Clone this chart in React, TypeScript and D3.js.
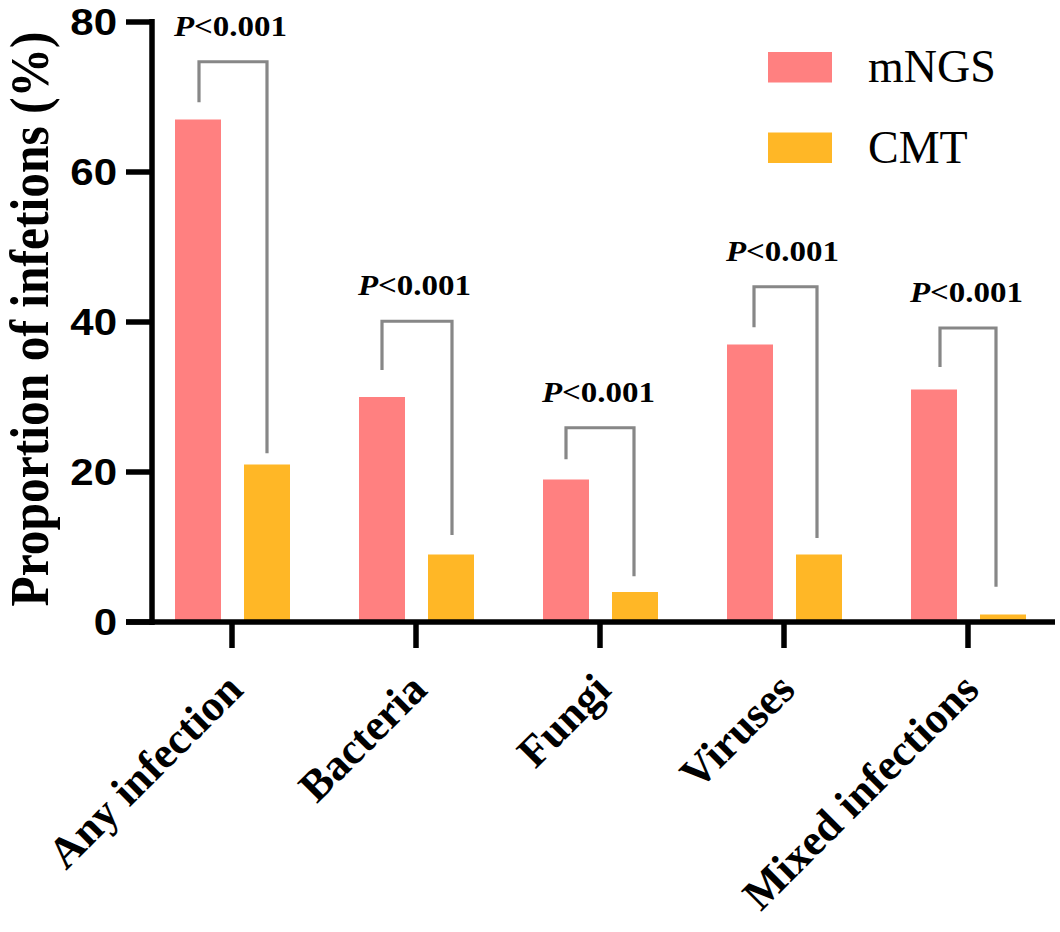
import React from "react";
import * as d3 from "d3";

const categories = ["Any infection", "Bacteria", "Fungi", "Viruses", "Mixed infections"];
const seriesNames = ["mNGS", "CMT"];
const mngsValues = [67, 30, 19, 37, 31];
const cmtValues = [21, 9, 4, 9, 1];
const yTicks = [0, 20, 40, 60, 80];
const pLabels = ["<0.001", "<0.001", "<0.001", "<0.001", "<0.001"];
// bracket annotation heights (data units)
const bracketTop = [74.7, 40.1, 25.9, 44.7, 39.2];
const bracketLeftEnd = [69.3, 33.6, 21.7, 39.3, 34.0];
const bracketRightEnd = [22.5, 11.6, 6.1, 11.2, 4.7];
const bracketLeftShift = [1, 0, 0, 4, 6];
const bracketRightShift = [0, 1, -1, -2, -7];

const colors = ["#FF8080", "#FFB726"];
const W = 1060;
const H = 932;

export default function App() {
  const y = d3.scaleLinear().domain([0, 80]).range([622, 22]);
  const x = d3.scaleBand<string>().domain(categories).range([140, 1060]).padding(0);
  const xs = d3
    .scaleBand<string>()
    .domain(seriesNames)
    .range([35, 150])
    .paddingInner(1 / 3)
    .paddingOuter(0);
  const values = [mngsValues, cmtValues];
  const sy = 0.89;
  const serif = "'Liberation Serif', 'Times New Roman', serif";
  const sans = "'Liberation Sans', Arial, sans-serif";

  return (
    <svg
      width={W}
      height={H}
      style={{ position: "absolute", left: 0, top: 0, background: "#fff" }}
    >
      <rect x={0} y={0} width={W} height={H} fill="#fff" />
      {/* bars */}
      {categories.map((c, i) =>
        seriesNames.map((s, j) => {
          const x0 = (x(c) as number) + (xs(s) as number);
          const v = values[j][i];
          return (
            <rect
              key={c + s}
              x={x0}
              y={y(v)}
              width={xs.bandwidth()}
              height={y(0) - y(v)}
              fill={colors[j]}
            />
          );
        })
      )}
      {/* brackets */}
      {categories.map((c, i) => {
        const xl = (x(c) as number) + (xs("mNGS") as number) + xs.bandwidth() / 2 + bracketLeftShift[i];
        const xr = (x(c) as number) + (xs("CMT") as number) + xs.bandwidth() / 2 + bracketRightShift[i];
        const path = d3.path();
        path.moveTo(xl, y(bracketLeftEnd[i]));
        path.lineTo(xl, y(bracketTop[i]));
        path.lineTo(xr, y(bracketTop[i]));
        path.lineTo(xr, y(bracketRightEnd[i]));
        const cx = (x(c) as number) + x.bandwidth() / 2 - 1.5;
        return (
          <g key={"b" + c}>
            <path d={path.toString()} fill="none" stroke="#878787" strokeWidth={3.2} />
            <text
              transform={`translate(${cx},${y(bracketTop[i]) - 26}) scale(1,0.9)`}
              textAnchor="middle"
              fontFamily={serif}
              fontWeight="bold"
              fontSize={33}
              fill="#000"
            >
              <tspan fontStyle="italic">P</tspan>
              {pLabels[i]}
            </text>
          </g>
        );
      })}
      {/* y axis */}
      <line x1={152} x2={152} y1={y(80) - 3} y2={y(0) + 3} stroke="#000" strokeWidth={5.5} />
      {yTicks.map((t) => (
        <g key={"yt" + t}>
          <line x1={126} x2={152} y1={y(t)} y2={y(t)} stroke="#000" strokeWidth={5.5} />
          <text
            transform={`translate(117,${y(t)}) scale(1,${sy})`}
            dy="0.36em"
            textAnchor="end"
            fontFamily={sans}
            fontWeight="bold"
            fontSize={42}
            fill="#000"
          >
            {t}
          </text>
        </g>
      ))}
      {/* x axis */}
      <line x1={126} x2={1055} y1={y(0)} y2={y(0)} stroke="#000" strokeWidth={5.5} />
      {categories.map((c) => {
        const cx = (x(c) as number) + x.bandwidth() / 2;
        return (
          <g key={"xt" + c}>
            <line x1={cx} x2={cx} y1={y(0)} y2={648} stroke="#000" strokeWidth={5.5} />
            <text
              transform={`translate(${cx + 13},692) rotate(-45)`}
              textAnchor="end"
              fontFamily={serif}
              fontWeight="bold"
              fontSize={44}
              fill="#000"
            >
              {c}
            </text>
          </g>
        );
      })}
      {/* y title */}
      <text
        transform={`translate(48,319) scale(1,0.9) rotate(-90)`}
        textAnchor="middle"
        fontFamily={serif}
        fontWeight="bold"
        fontSize={55}
        fill="#000"
      >
        Proportion of infetions (%)
      </text>
      {/* legend */}
      {seriesNames.map((s, j) => (
        <g key={"lg" + s} transform={`translate(768,${52 + j * 80.5})`}>
          <rect x={0} y={0} width={64} height={30.5} fill={colors[j]} />
          <text
            x={100}
            y={30}
            fontFamily={serif}
            fontSize={46}
            fill="#000"
          >
            {s}
          </text>
        </g>
      ))}
    </svg>
  );
}
